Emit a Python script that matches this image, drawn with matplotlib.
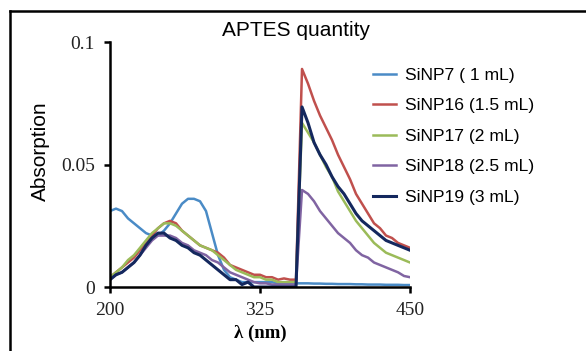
# import the matplotlib 2D plots to make the line chart
import matplotlib
matplotlib.use("Agg")
import matplotlib.pyplot as plt
from matplotlib.lines import Line2D

# global constants
PNG_NAME: str = "out.png"

# wavelength axis (nm) shared by every spectrum
wavelength = [
    200, 205, 210, 215, 220, 225, 230, 235, 240, 245, 250, 255, 260, 265, 270, 275,
    280, 285, 290, 295, 300, 305, 310, 315, 320, 325, 330, 335, 340, 345, 350, 355,
    360, 365, 370, 375, 380, 385, 390, 395, 400, 405, 410, 415, 420, 425, 430, 435,
    440, 445, 450,
]

# absorption values
sinp7 = [
    0.031, 0.032, 0.031, 0.028, 0.026, 0.024, 0.022, 0.021, 0.021, 0.023, 0.026, 0.030,
    0.034, 0.036, 0.036, 0.035, 0.031, 0.022, 0.013, 0.007, 0.004, 0.003, 0.002, 0.002,
    0.002, 0.002, 0.002, 0.002, 0.0015, 0.0015, 0.0015, 0.0015,
    0.0015, 0.0015, 0.0014, 0.0014, 0.0013, 0.0013, 0.0012, 0.0012, 0.0012, 0.0011,
    0.0011, 0.0010, 0.0010, 0.0010, 0.0009, 0.0009, 0.0009, 0.0008, 0.0008,
]
sinp16 = [
    0.004, 0.006, 0.008, 0.010, 0.012, 0.015, 0.018, 0.021, 0.024, 0.026, 0.027, 0.026,
    0.023, 0.021, 0.019, 0.017, 0.016, 0.015, 0.014, 0.012, 0.009, 0.008, 0.007, 0.006,
    0.005, 0.005, 0.004, 0.004, 0.003, 0.0035, 0.003, 0.003,
    0.089, 0.083, 0.076, 0.070, 0.065, 0.060, 0.054, 0.049, 0.044, 0.038, 0.034, 0.030,
    0.026, 0.024, 0.021, 0.020, 0.018, 0.017, 0.016,
]
sinp17 = [
    0.004, 0.006, 0.008, 0.011, 0.013, 0.016, 0.019, 0.022, 0.024, 0.026, 0.026, 0.025,
    0.023, 0.021, 0.019, 0.017, 0.016, 0.015, 0.013, 0.011, 0.009, 0.007, 0.006, 0.005,
    0.004, 0.004, 0.003, 0.003, 0.002, 0.002, 0.002, 0.002,
    0.067, 0.063, 0.059, 0.054, 0.049, 0.045, 0.039, 0.035, 0.031, 0.027, 0.024, 0.021,
    0.018, 0.016, 0.014, 0.013, 0.012, 0.011, 0.010,
]
sinp18 = [
    0.003, 0.005, 0.006, 0.008, 0.010, 0.013, 0.016, 0.019, 0.021, 0.021, 0.021, 0.020,
    0.018, 0.017, 0.015, 0.014, 0.013, 0.011, 0.010, 0.008, 0.006, 0.005, 0.004, 0.003,
    0.002, 0.0015, 0.0015, 0.001, 0.001, 0.001, 0.001, 0.001,
    0.0396, 0.038, 0.035, 0.031, 0.028, 0.025, 0.022, 0.020, 0.018, 0.015, 0.013, 0.012,
    0.010, 0.009, 0.008, 0.007, 0.006, 0.0045, 0.004,
]
sinp19 = [
    0.003, 0.005, 0.006, 0.008, 0.010, 0.013, 0.017, 0.020, 0.022, 0.022, 0.020, 0.019,
    0.017, 0.016, 0.014, 0.013, 0.011, 0.009, 0.007, 0.005, 0.003, 0.003, 0.001, 0.002,
    0.0, 0.0, 0.0, 0.0, 0.0, 0.0, 0.0, 0.0,
    0.0735, 0.067, 0.059, 0.054, 0.050, 0.045, 0.041, 0.038, 0.034, 0.030, 0.027, 0.025,
    0.023, 0.021, 0.019, 0.018, 0.017, 0.016, 0.015,
]

series_labels = [
    "SiNP7 ( 1 mL)",
    "SiNP16 (1.5 mL)",
    "SiNP17 (2 mL)",
    "SiNP18 (2.5 mL)",
    "SiNP19 (3 mL)",
]
series_colors = ["#4A8BC6", "#C0504D", "#9BBB59", "#8064A2", "#14285E"]

x_ticks = [200, 325, 450]
y_ticks = [0, 0.05, 0.1]
y_tick_labels = ["0", "0.05", "0.1"]


def absorption_chart():
    # create the figure with the same pixel size as the reference
    fig = plt.figure(figsize=(5.86, 3.51), dpi=100)
    axes = fig.add_axes([0.1877, 0.1823, 0.512, 0.698])

    # draw every spectrum
    all_series = [sinp7, sinp16, sinp17, sinp18, sinp19]
    for values, label, colour in zip(all_series, series_labels, series_colors):
        width = 2.2 if label.startswith("SiNP19") else 1.8
        axes.plot(wavelength, values, color=colour, linewidth=width, label=label,
                  solid_joinstyle="round")

    # limits and ticks
    axes.set_xlim(200, 450)
    axes.set_ylim(0, 0.1)
    axes.set_xticks(x_ticks)
    axes.set_yticks(y_ticks)
    axes.set_yticklabels(y_tick_labels)

    # only keep the left and bottom lines of the box
    for side in ["top", "right"]:
        axes.spines[side].set_visible(False)
    for side in ["left", "bottom"]:
        axes.spines[side].set_linewidth(1.8)
    axes.tick_params(direction="out", length=4, width=1.8, pad=7)
    for tick in axes.get_xticklabels() + axes.get_yticklabels():
        tick.set_fontfamily("Liberation Serif")
        tick.set_fontsize(14)
        tick.set_color("#222222")

    # title and axis labels
    fig.text(296 / 586, 1 - 30 / 351, "APTES quantity", ha="center", va="center",
             family="Liberation Sans", fontsize=15)
    fig.text(40 / 586, 1 - 151 / 351, "Absorption", ha="center", va="center",
             rotation=90, family="Liberation Sans", fontsize=15)
    fig.text(260 / 586, 1 - 333 / 351, "λ (nm)", ha="center", va="center",
             family="Liberation Serif", fontweight="bold", fontsize=13.5)

    # legend at the right hand side
    fig.legend(
        loc="upper left",
        bbox_to_anchor=(357 / 586, 1 - 52 / 351),
        frameon=False,
        prop={"family": "Liberation Sans", "size": 12.6},
        handlelength=1.3,
        handletextpad=0.57,
        labelspacing=0.87,
    )

    # outer frame around the whole picture (left and top edges visible)
    fig.add_artist(Line2D([10 / 586, 10 / 586], [0, 1 - 11 / 351], color="black",
                          linewidth=1.8, transform=fig.transFigure))
    fig.add_artist(Line2D([10 / 586, 1], [1 - 11 / 351, 1 - 11 / 351], color="black",
                          linewidth=1.8, transform=fig.transFigure))

    fig.savefig(PNG_NAME, dpi=100)


def main():
    absorption_chart()


if __name__ == "__main__":
    main()
